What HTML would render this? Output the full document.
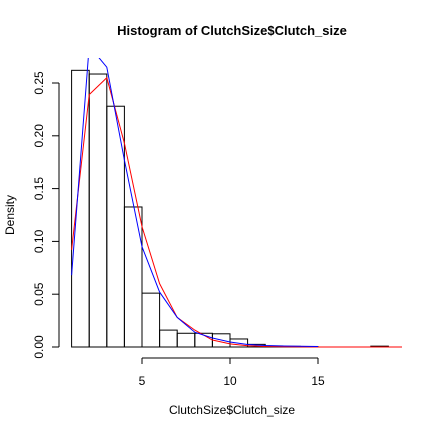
<!DOCTYPE html>
<html><head><meta charset="utf-8"><style>
html,body{margin:0;padding:0;background:#fff}
svg{display:block;font-family:"Liberation Sans",Arial,sans-serif}
</style></head><body>
<svg id="chart" width="432" height="432" viewBox="0 0 432 432">
<text x="232" y="35" text-anchor="middle" font-size="13" font-weight="bold">Histogram of ClutchSize$Clutch_size</text>
<text x="232" y="414" text-anchor="middle" font-size="12">ClutchSize$Clutch_size</text>
<text transform="translate(14,215) rotate(-90)" text-anchor="middle" font-size="12">Density</text>
<g id="bars"></g>
<g id="axes"></g>
<g id="curves"></g>
</svg>
<script>
const binStarts=[1,2,3,4,5,6,7,8,9,10,11,12,13,14,15,16,17,18];
const density=[0.262,0.2585,0.228,0.1326,0.051,0.016,0.013,0.013,0.0125,0.0076,0.0025,0.001,0.0006,0.0004,0,0,0,0.0008];
const redX=[1,2,3,4,5,6,7,8,9,10,11,12,13,14,15,16,17,18,19,20];
const redY=[0.092,0.239,0.255,0.193,0.114,0.060,0.028,0.016,0.0066,0.003,0.0012,0.0005,0.0002,0.0001,0,0,0,0,0,0];
const blueX=[1,2,3,4,5,6,7,8,9,10,11,12,13,14,15];
const blueY=[0.068,0.285,0.265,0.177,0.095,0.052,0.028,0.014,0.0085,0.0047,0.0024,0.0014,0.001,0.0007,0.0005];
const xTicks=[5,10,15];
const yTicks=[0,0.05,0.1,0.15,0.2,0.25];
const yTickLabels=["0.00","0.05","0.10","0.15","0.20","0.25"];

const sx=v=>142+(v-5)*17.6;
const sy=v=>347-v*1056;
const NS="http://www.w3.org/2000/svg";
function mk(tag,attrs,parent){const e=document.createElementNS(NS,tag);for(const k in attrs)e.setAttribute(k,attrs[k]);parent.appendChild(e);return e;}
const bars=document.getElementById('bars');
binStarts.forEach((b,i)=>{
  const r=mk('rect',{x:sx(b),y:sy(density[i]),width:sx(b+1)-sx(b),height:sy(0)-sy(density[i]),fill:'none',stroke:'#000','stroke-width':1},bars);
  
  
});
const axes=document.getElementById('axes');
mk('line',{x1:sx(xTicks[0]),x2:sx(xTicks[xTicks.length-1]),y1:358,y2:358,stroke:'#000'},axes);
xTicks.forEach(t=>{
  mk('line',{x1:sx(t),x2:sx(t),y1:358,y2:364,stroke:'#000'},axes);
  const tx=mk('text',{x:sx(t),y:385,'text-anchor':'middle','font-size':12},axes);
  tx.textContent=t;
  
  
});
mk('line',{x1:59,x2:59,y1:sy(yTicks[0]),y2:sy(yTicks[yTicks.length-1]),stroke:'#000'},axes);
yTicks.forEach((t,i)=>{
  mk('line',{x1:52,x2:59,y1:sy(t),y2:sy(t),stroke:'#000'},axes);
  const tx=mk('text',{transform:`translate(43,${sy(t)}) rotate(-90)`,'text-anchor':'middle','font-size':12},axes);
  tx.textContent=yTickLabels[i];
  
  
});
const curves=document.getElementById('curves');
const cp=mk('clipPath',{id:'clip'},curves);
mk('rect',{x:59,y:58,width:343,height:300},cp);
const red=mk('polyline',{points:redX.map((x,i)=>sx(x)+','+sy(redY[i])).join(' '),fill:'none',stroke:'#ff0000','stroke-width':1,'clip-path':'url(#clip)'},curves);


const blue=mk('polyline',{points:blueX.map((x,i)=>sx(x)+','+sy(blueY[i])).join(' '),fill:'none',stroke:'#0000ff','stroke-width':1,'clip-path':'url(#clip)'},curves);


</script>
</body></html>
